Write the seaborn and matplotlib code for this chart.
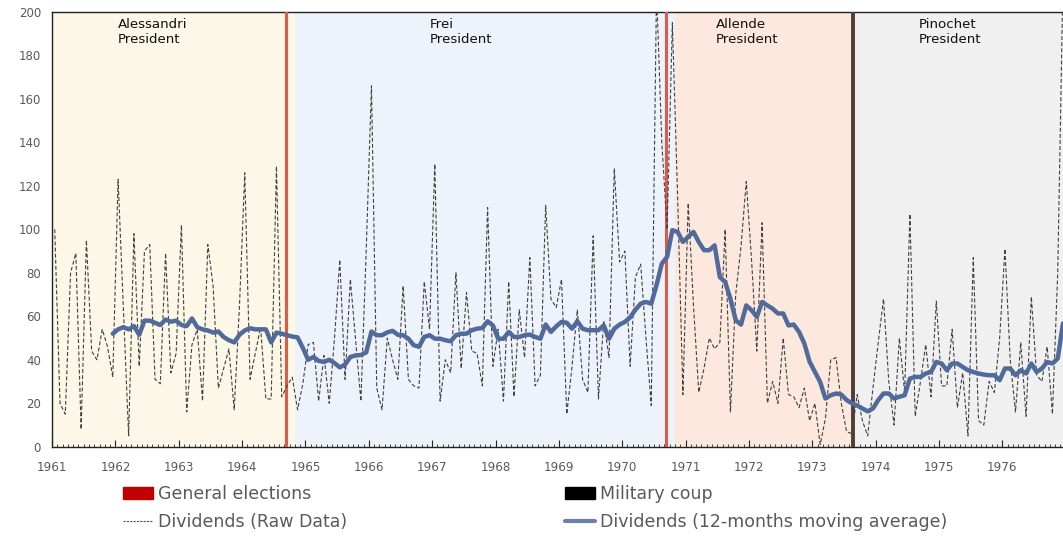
import numpy as np
import pandas as pd
import matplotlib.pyplot as plt
from matplotlib.patches import Patch
from matplotlib.lines import Line2D
import seaborn as sns

# monthly dividends, Jan 1961 .. Dec 1976 (month index 0..191)
years = list(range(1961, 1977))
raw_dividends = [
    100, 20, 15, 80, 89, 8, 95, 44, 40, 54, 46, 32,
    123, 64, 5, 98, 37, 90, 93, 31, 29, 89, 34, 43,
    102, 16, 47, 54, 21, 93, 74, 27, 36, 45, 17, 65,
    126, 31, 43, 55, 22, 22, 129, 23, 28, 32, 17, 29,
    47, 48, 21, 42, 20, 50, 86, 31, 77, 49, 21, 90,
    166, 27, 17, 50, 40, 31, 74, 31, 28, 27, 76, 54,
    130, 21, 40, 34, 80, 36, 71, 44, 43, 28, 110, 37,
    54, 21, 76, 23, 63, 41, 87, 28, 33, 111, 68, 64,
    77, 15, 37, 63, 31, 25, 97, 22, 58, 41, 128, 85,
    90, 37, 78, 84, 50, 19, 210, 140, 100, 195, 115, 24,
    112, 65, 25, 36, 50, 45, 48, 100, 16, 70, 92, 122,
    86, 44, 103, 20, 30, 20, 50, 24, 23, 18, 27, 12,
    20, 1, 13, 40, 41, 20, 7, 6, 24, 12, 5, 27,
    48, 68, 30, 10, 50, 25, 107, 14, 30, 47, 23, 67,
    28, 28, 54, 18, 34, 5, 87, 12, 10, 30, 25, 50,
    91, 40, 16, 48, 14, 69, 33, 30, 46, 15, 80, 215,
]

# 12-months moving average, first value at Dec 1961 (month 11)
ma_start = 11
ma_dividends = [
    52, 54, 55, 54, 55.5, 51.5, 58, 58, 57, 56, 58.5, 57.5, 58,
    56, 55.5, 59, 55, 54, 53.5, 52.5, 53, 50.5, 49, 48, 51.5,
    53.5, 54.5, 54, 54, 54, 48, 52.5, 52, 51.3, 50.7, 50.3, 45.5,
    40, 41.3, 39.5, 39, 40, 38.5, 36.5, 37.8, 41.3, 42, 42.2, 43.4,
    53, 51.3, 51.3, 52.6, 53.3, 51.5, 51.3, 49.7, 46.7, 46, 50.5, 51.3,
    49.7, 49.7, 49, 48.5, 51.3, 52, 52, 53.6, 54.3, 54.6, 57.7, 55.8,
    49.7, 49.7, 52.8, 50.5, 50.5, 51.3, 51.6, 50.5, 49.7, 56.2, 52.8, 55.4,
    57.4, 57, 54.3, 57.7, 54.3, 53.6, 53.6, 53.6, 55.8, 49.7, 54.3, 56.2,
    57.4, 59.5, 63, 65.8, 66.6, 65.8, 74.3, 84.2, 87.3, 99.6, 98.8, 94.2,
    96.5, 98.8, 94.2, 90.4, 90.4, 92.6, 78, 75.8, 68, 58.2, 56.2, 65,
    62.8, 59.7, 66.6, 65, 63.5, 61.3, 61.3, 55.8, 56.2, 52.8, 47.5, 39.1,
    34.4, 29.8, 22.2, 23.7, 24.5, 24, 21.5, 20, 19, 17.6, 16.3, 17.6,
    21.5, 24.5, 24.5, 22.2, 23, 23.7, 31.4, 32.1, 32.1, 33.7, 34.4, 39,
    38.3, 35.2, 38.3, 38.3, 36.7, 35.2, 34.4, 33.7, 33.2, 32.9, 32.9, 30.6,
    36, 36, 32.9, 35.2, 33.7, 38.3, 34.4, 36, 39, 38.3, 40.6, 56.7,
]

presidents = ["Alessandri", "Frei", "Allende", "Pinochet"]
term_edges = [-0.5, 45.6, 117.5, 151.3, 191]
election_months = [43.85, 115.85]
coup_month = 151.3

term_colors = ["#FDF7E7", "#EEF2FA", "#FCE8DC", "#F0F0F0"]
label_x = [12, 71, 125.3, 163.6]

raw_df = pd.DataFrame({"month": np.arange(len(raw_dividends)), "dividends": raw_dividends})
ma_df = pd.DataFrame({"month": np.arange(ma_start, ma_start + len(ma_dividends)),
                      "dividends": ma_dividends})

sns.set_style("white")
plt.rcParams["font.family"] = ["DejaVu Sans"]

fig, ax = plt.subplots(figsize=(10.63, 5.37), dpi=100)
fig.subplots_adjust(left=0.049, right=1.0, top=0.978, bottom=0.168)

for i, name in enumerate(presidents):
    ax.axvspan(term_edges[i], term_edges[i + 1], color=term_colors[i], lw=0, zorder=0)
    ax.text(label_x[i], 197, f"{name}\nPresident", ha="left", va="top",
            fontsize=9.6, color="#111111", linespacing=1.15, zorder=6)

for m in election_months:
    ax.axvline(m, color="#DE5B49", lw=2.2, zorder=3)
ax.axvline(coup_month, color="#4E4036", lw=2.8, zorder=3)

sns.lineplot(data=raw_df, x="month", y="dividends", ax=ax, color="#404040",
             lw=0.8, linestyle=(0, (3.5, 2)), zorder=4)
sns.lineplot(data=ma_df, x="month", y="dividends", ax=ax, color="#506A9C",
             lw=3.2, zorder=5)

ax.set_xlim(-0.5, 191)
ax.set_ylim(0, 200)
ax.set_yticks(range(0, 201, 20))
ax.set_xticks([12 * k - 0.5 for k in range(len(years))])
ax.set_xticklabels([str(y) for y in years])
ax.set_xticks(np.arange(-0.5, 191, 1), minor=True)
ax.set_xlabel("")
ax.set_ylabel("")
ax.tick_params(axis="x", which="major", direction="in", length=5, width=0.8,
               pad=10, labelsize=8.6, labelcolor="#595959", bottom=True)
ax.tick_params(axis="x", which="minor", direction="in", length=2.5, width=0.6, bottom=True)
ax.tick_params(axis="y", length=0, pad=8, labelsize=8.5, labelcolor="#595959")

for side in ["left", "bottom", "top"]:
    ax.spines[side].set_color("#222222")
    ax.spines[side].set_linewidth(1.0)
ax.spines["right"].set_visible(False)

leg_kw = dict(loc="upper left", frameon=False, fontsize=12.5, labelcolor="#595959",
              handlelength=1.75, handletextpad=0.28, labelspacing=0.55,
              borderpad=0, borderaxespad=0)
fig.legend(handles=[Patch(color="#C00000", label="General elections"),
                    Line2D([], [], color="#555555", lw=0.8, linestyle=(0, (2, 1)),
                           label="Dividends (Raw Data)")],
           bbox_to_anchor=(0.1157, 0.0965), **leg_kw)
fig.legend(handles=[Patch(color="#000000", label="Military coup"),
                    Line2D([], [], color="#6B80AA", lw=3,
                           label="Dividends (12-months moving average)")],
           bbox_to_anchor=(0.5315, 0.0965), **leg_kw)

plt.savefig("out.png", dpi=100)
plt.close()
